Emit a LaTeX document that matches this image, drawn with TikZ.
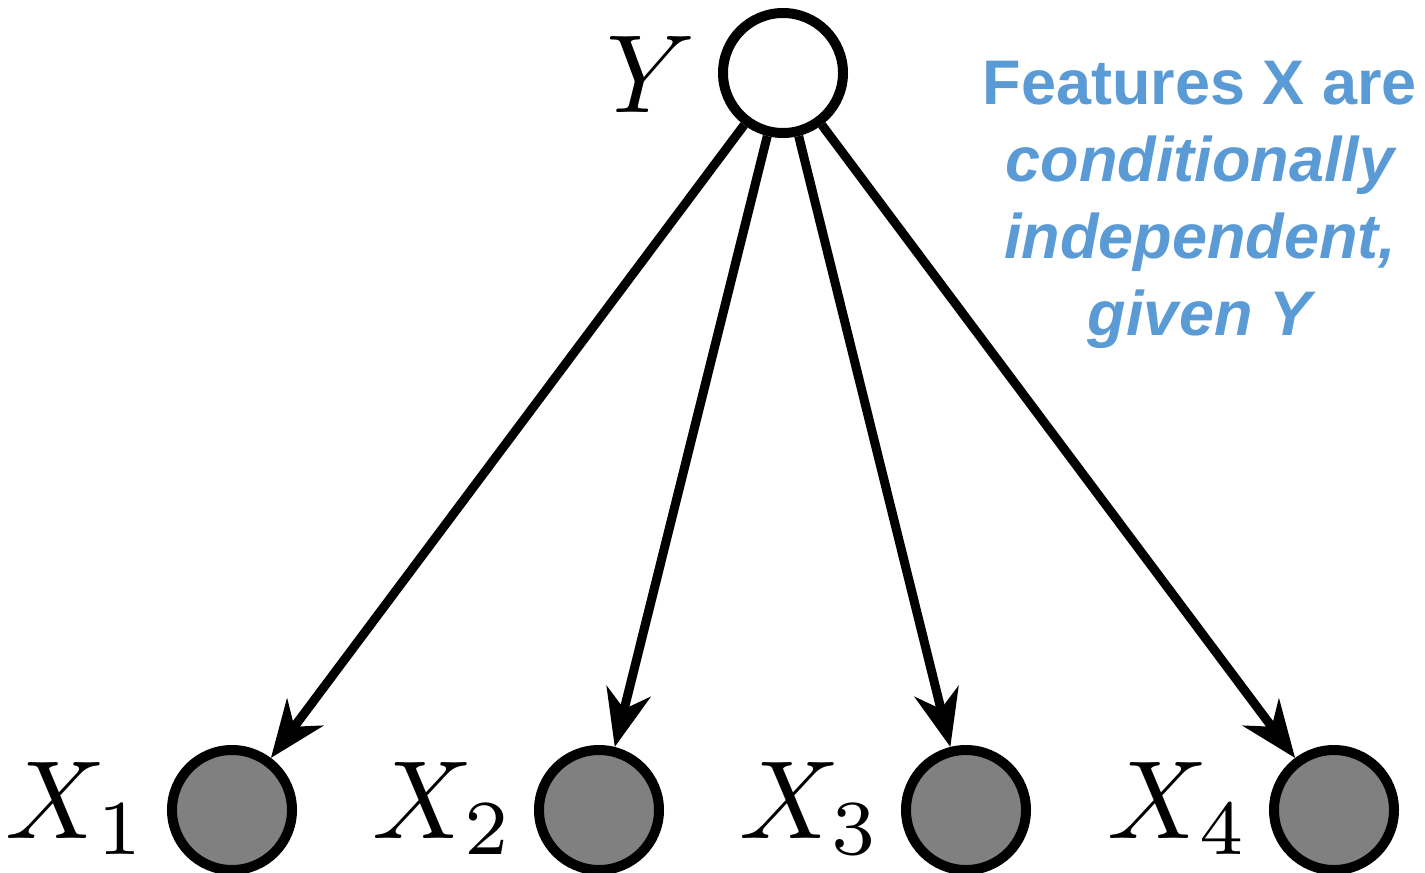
\documentclass[tikz,border=0pt]{standalone}
\usepackage{graphicx}
\usepackage{fontspec}
\newfontfamily\arialfont{Liberation Sans}
\usetikzlibrary{arrows.meta,calc}
\definecolor{noteblue}{RGB}{91,155,213}
\definecolor{nodegray}{RGB}{128,128,128}
\newcommand{\biglabel}[1]{\scalebox{5.56}{$#1$}}
\begin{document}
\begin{tikzpicture}[x=0.5pt,y=-0.5pt,
  latent/.style={circle, draw=black, line width=5pt, minimum size=60pt, inner sep=0pt, fill=white},
  observed/.style={latent, fill=nodegray},
  edge/.style={line width=4.5pt, -{Stealth[length=28.5pt,width=22.5pt,inset=9pt]}},
  varlabel/.style={inner sep=0pt}]
\useasboundingbox (0,0) rectangle (1425,873);
\node[latent] (Y) at (783,73) {};
\node[observed] (X1) at (232,810) {};
\node[observed] (X2) at (599,810) {};
\node[observed] (X3) at (966,810) {};
\node[observed] (X4) at (1334,810) {};
\node[varlabel, anchor=base east] (lY) at ($(Y.west)+(-22,39)$) {\biglabel{Y}};
\node[varlabel, anchor=base east] (lX1) at ($(X1.west)+(-19,28)$) {\biglabel{X_1}};
\node[varlabel, anchor=base east] (lX2) at ($(X2.west)+(-19,28)$) {\biglabel{X_2}};
\node[varlabel, anchor=base east] (lX3) at ($(X3.west)+(-19,28)$) {\biglabel{X_3}};
\node[varlabel, anchor=base east] (lX4) at ($(X4.west)+(-19,28)$) {\biglabel{X_4}};
\draw[edge] (Y) -- (X1);
\draw[edge] (Y) -- (X2);
\draw[edge] (Y) -- (X3);
\draw[edge] (Y) -- (X4);
\node[font=\arialfont\bfseries\fontsize{31.5}{38.5}\selectfont, text=noteblue, align=center, anchor=base, inner sep=0pt] (note) at (1200,335)
  {Features X are\\\itshape conditionally\\\itshape independent,\\\itshape given Y};
\end{tikzpicture}
\end{document}
